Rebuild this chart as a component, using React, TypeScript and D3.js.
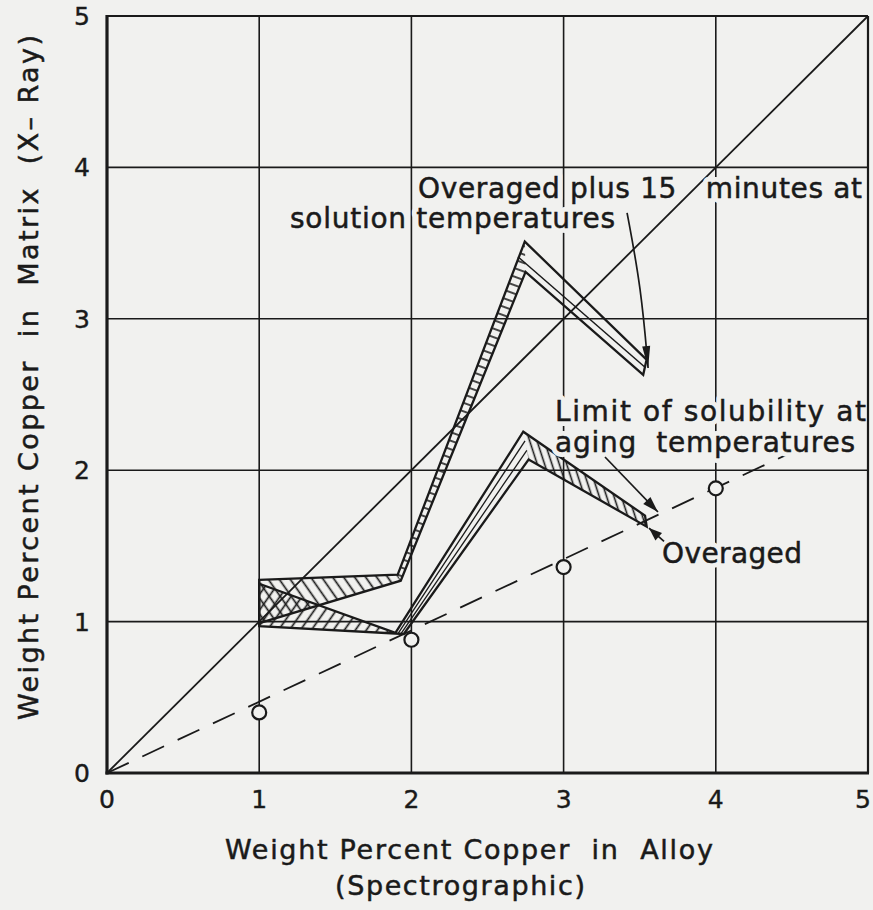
import React from 'react';
import * as d3 from 'd3';

type P = [number, number];

// axes
const xTickValues = [0, 1, 2, 3, 4, 5];
const yTickValues = [0, 1, 2, 3, 4, 5];
const xTickLabels = ['0', '1', '2', '3', '4', '5'];
const yTickLabels = ['0', '1', '2', '3', '4', '5'];

// equality line
const equalityLine: P[] = [[0, 0], [5, 5]];

// limit of solubility at aging temperatures (dashed) and measured points
const solubilityLine: P[] = [[0, 0], [4.46, 2.1]];
const solubilityX = [1, 2, 3, 4];
const solubilityY = [0.4, 0.88, 1.36, 1.88];

// band: overaged plus 15 minutes at solution temperatures
const bandAOuter: P[] = [[1, 1.275], [1.91, 1.31], [2.745, 3.51], [3.545, 2.73]];
const bandAInner: P[] = [[1, 0.99], [1.93, 1.27], [2.75, 3.31], [3.523, 2.63]];
const bandAMiddle: P[] = [[2.7, 3.41], [3.535, 2.68]];

// band: overaged
const bandBOuter: P[] = [[1, 1.25], [1.895, 0.925], [2.735, 2.254], [3.535, 1.7]];
const bandBInner: P[] = [[1, 0.97], [1.95, 0.918], [2.77, 2.07], [3.546, 1.627]];

// annotation arrows (data coordinates)
const arrowSolution: P[] = [[3.417, 3.70], [3.51, 3.2], [3.555, 2.675]];
const arrowLimit: P[] = [[3.272, 2.087], [3.62, 1.724]];
const arrowOveraged: P[] = [[3.66, 1.53], [3.561, 1.618]];

const ink = '#1a1a1a';
const bg = '#f1f1ef';
const font = '"DejaVu Sans", "Noto Sans", sans-serif';

type LabelProps = { x: number; y: number; len: number; children: string; halo?: boolean };

function Label({ x, y, len, children, halo }: LabelProps) {
  return (
    <g>
      {halo && (
        <text x={x} y={y} textLength={len} lengthAdjust="spacing" fill={bg} stroke={bg} strokeWidth={10}
          strokeLinejoin="round" style={{ whiteSpace: 'pre' }}>{children}</text>
      )}
      <text x={x} y={y} textLength={len} lengthAdjust="spacing" fill={ink} stroke={ink} strokeWidth={0.5}
        style={{ whiteSpace: 'pre' }}>{children}</text>
    </g>
  );
}

export default function App() {
  const W = 873;
  const H = 910;
  const x = d3.scaleLinear().domain([0, 5]).range([107, 868]);
  const y = d3.scaleLinear().domain([0, 5]).range([773, 16]);
  const line = d3.line<P>().x((d) => x(d[0])).y((d) => y(d[1]));
  const curve = d3.line<P>().x((d) => x(d[0])).y((d) => y(d[1])).curve(d3.curveBasis);

  const poly = (pts: P[]) => line(pts) + 'Z';
  const fullPoly = (outer: P[], inner: P[]) => poly([...outer, ...inner.slice().reverse()]);
  const seg = (outer: P[], inner: P[], i: number): P[] => [outer[i], outer[i + 1], inner[i + 1], inner[i]];
  const lerp = (a: P, b: P, t: number): P => [a[0] + (b[0] - a[0]) * t, a[1] + (b[1] - a[1]) * t];

  const head = (from: P, tip: P, len: number, hw: number) => {
    const fx = x(from[0]), fy = y(from[1]);
    const tx = x(tip[0]), ty = y(tip[1]);
    const dx = tx - fx, dy = ty - fy;
    const l = Math.hypot(dx, dy);
    const ux = dx / l, uy = dy / l;
    const bx = tx - ux * len, by = ty - uy * len;
    return `M${tx},${ty}L${bx - uy * hw},${by + ux * hw}L${bx + uy * hw},${by - ux * hw}Z`;
  };

  const bRiseLines = [0.33, 0.67].map((t) => [
    lerp(bandBOuter[1], bandBInner[1], t),
    lerp(bandBOuter[2], bandBInner[2], t),
  ] as P[]);

  return (
    <svg width={W} height={H} style={{ position: 'absolute', left: 0, top: 0, display: 'block' }}>
      <defs>
        <pattern id="hA" patternUnits="userSpaceOnUse" width={9} height={9} patternTransform="rotate(-35)">
          <line x1={4.5} y1={0} x2={4.5} y2={9} stroke={ink} strokeWidth={1.7} />
        </pattern>
        <pattern id="hB" patternUnits="userSpaceOnUse" width={9} height={9} patternTransform="rotate(35)">
          <line x1={4.5} y1={0} x2={4.5} y2={9} stroke={ink} strokeWidth={1.7} />
        </pattern>
        <pattern id="rungA" patternUnits="userSpaceOnUse" width={8} height={8} patternTransform="rotate(20)">
          <line x1={0} y1={4} x2={8} y2={4} stroke={ink} strokeWidth={1.6} />
        </pattern>
        <pattern id="hBfall" patternUnits="userSpaceOnUse" width={7} height={7} patternTransform="rotate(-18)">
          <line x1={3.5} y1={0} x2={3.5} y2={7} stroke={ink} strokeWidth={1.6} />
        </pattern>
      </defs>
      <rect x={0} y={0} width={W} height={H} fill={bg} />

      {/* grid */}
      {xTickValues.slice(1, -1).map((v) => (
        <line key={'gx' + v} x1={x(v)} x2={x(v)} y1={y(0)} y2={y(5)} stroke={ink} strokeWidth={1.6} />
      ))}
      {yTickValues.slice(1, -1).map((v) => (
        <line key={'gy' + v} x1={x(0)} x2={x(5)} y1={y(v)} y2={y(v)} stroke={ink} strokeWidth={1.6} />
      ))}

      {/* equality line */}
      <path d={line(equalityLine) ?? ''} fill="none" stroke={ink} strokeWidth={1.8} />

      {/* solubility limit */}
      <path d={line(solubilityLine) ?? ''} fill="none" stroke={ink} strokeWidth={1.8} strokeDasharray="24 15" />
      {solubilityX.map((v, i) => (
        <circle key={'c' + i} cx={x(v)} cy={y(solubilityY[i])} r={7} fill={bg} stroke={ink} strokeWidth={2.2} />
      ))}

      {/* band A */}
      <path d={poly(seg(bandAOuter, bandAInner, 0))} fill="url(#hA)" />
      <path d={poly(seg(bandAOuter, bandAInner, 1))} fill="url(#rungA)" />
      {/* band B */}
      <path d={poly(seg(bandBOuter, bandBInner, 0))} fill="url(#hB)" />
      <path d={poly(seg(bandBOuter, bandBInner, 2))} fill="url(#hBfall)" />
      {bRiseLines.map((l, i) => (
        <path key={'br' + i} d={line(l) ?? ''} stroke={ink} strokeWidth={1.3} fill="none" />
      ))}
      <path d={line(bandAMiddle) ?? ''} stroke={ink} strokeWidth={1.5} fill="none" />
      <path d={fullPoly(bandAOuter, bandAInner)} fill="none" stroke={ink} strokeWidth={2.3} strokeLinejoin="miter" />
      <path d={fullPoly(bandBOuter, bandBInner)} fill="none" stroke={ink} strokeWidth={2.3} strokeLinejoin="miter" />

      {/* tick labels */}
      <g fontFamily={font} fontSize={25} fill={ink} stroke={ink} strokeWidth={0.4} textAnchor="middle">
        {xTickValues.map((v, i) => (
          <text key={'tx' + v} x={x(v)} dx={v === 5 ? -5 : 0} y={808}>{xTickLabels[i]}</text>
        ))}
        {yTickValues.map((v, i) => (
          <text key={'ty' + v} x={82} y={y(v) + 9}>{yTickLabels[i]}</text>
        ))}
      </g>

      {/* axis titles */}
      <g fontFamily={font} fontSize={27}>
        <Label x={225} y={859} len={488}>{'Weight Percent Copper  in  Alloy'}</Label>
        <Label x={335} y={895} len={250}>{'(Spectrographic)'}</Label>
        <g transform="translate(38,720) rotate(-90)">
          <Label x={0} y={0} len={685}>{'Weight Percent Copper  in  Matrix  (X– Ray)'}</Label>
        </g>
      </g>

      {/* annotations */}
      <g fontFamily={font} fontSize={28}>
        <Label x={418} y={198} len={444} halo>{'Overaged plus 15   minutes at'}</Label>
        <Label x={290} y={228} len={325} halo>{'solution temperatures'}</Label>
        <Label x={555} y={421} len={311} halo>{'Limit of solubility at'}</Label>
        <Label x={555} y={452} len={300} halo>{'aging  temperatures'}</Label>
        <Label x={662} y={563} len={140} halo>{'Overaged'}</Label>
      </g>

      {/* frame (over text halos) */}
      <line x1={x(0)} x2={x(5)} y1={y(5)} y2={y(5)} stroke={ink} strokeWidth={2} />
      <line x1={x(5)} x2={x(5)} y1={y(5)} y2={y(0)} stroke={ink} strokeWidth={2.2} />
      <line x1={x(0)} x2={x(0)} y1={y(5) - 1} y2={y(0) + 1.5} stroke={ink} strokeWidth={3.2} />
      <line x1={x(0) - 1.5} x2={x(5) + 1} y1={y(0)} y2={y(0)} stroke={ink} strokeWidth={3.2} />

      {/* arrows */}
      <path d={curve(arrowSolution) ?? ''} fill="none" stroke={ink} strokeWidth={1.7} />
      <path d={head(arrowSolution[1], arrowSolution[2], 22, 4)} fill={ink} />
      <path d={line(arrowLimit) ?? ''} fill="none" stroke={ink} strokeWidth={1.7} />
      <path d={head(arrowLimit[0], arrowLimit[1], 16, 5)} fill={ink} />
      <path d={line(arrowOveraged) ?? ''} fill="none" stroke={ink} strokeWidth={1.7} />
      <path d={head(arrowOveraged[0], arrowOveraged[1], 13, 5)} fill={ink} />
    </svg>
  );
}
